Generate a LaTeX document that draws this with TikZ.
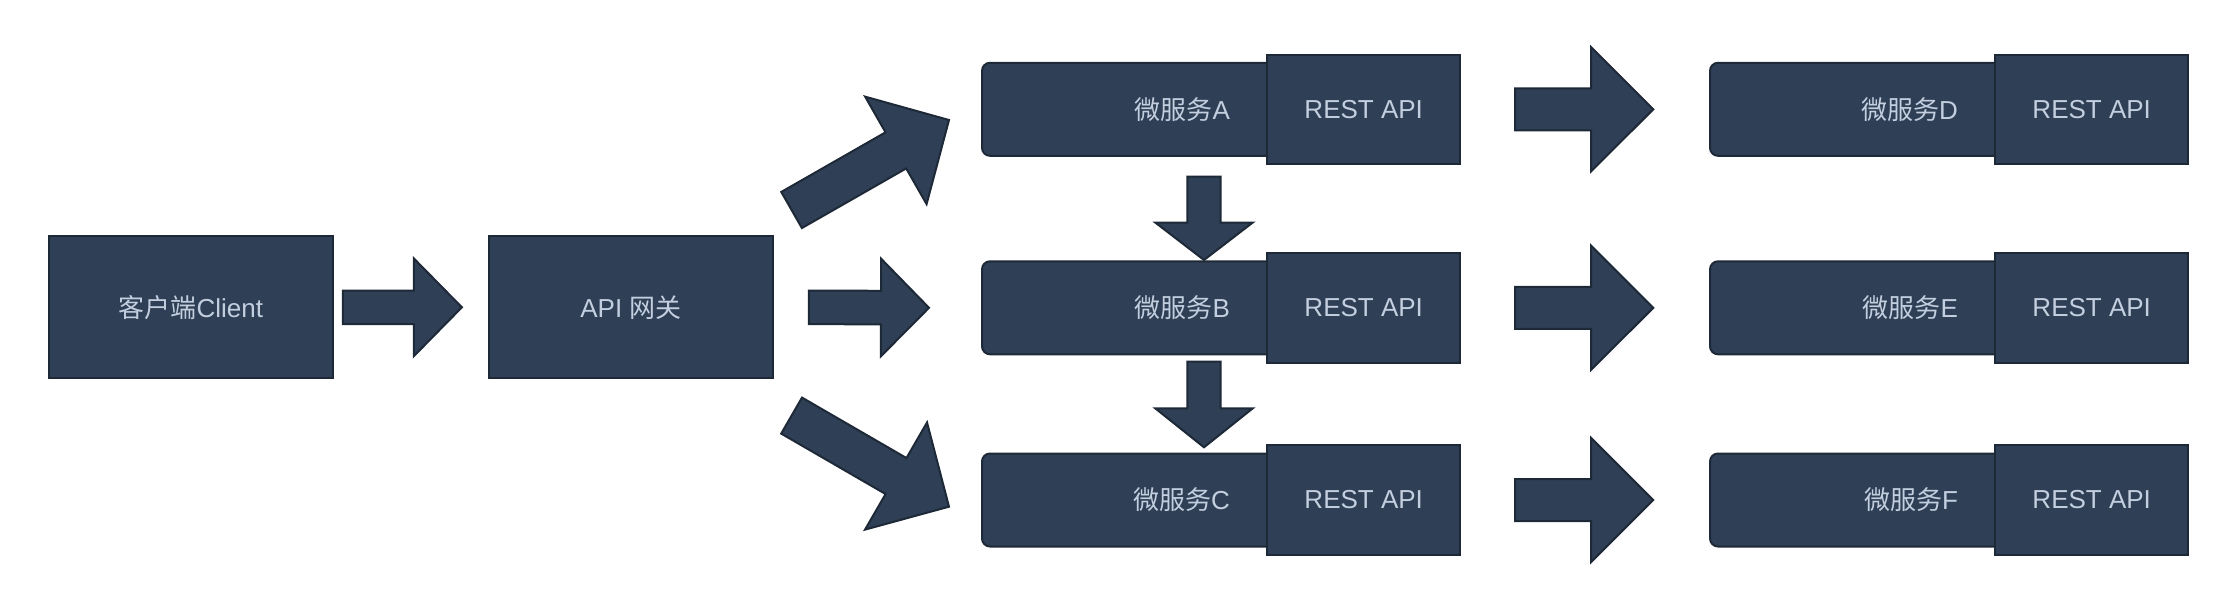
\documentclass[tikz,border=0pt]{standalone}
\usepackage{fontspec}
\setmainfont{Liberation Sans}
\newfontfamily\cjk{Noto Sans CJK SC}
\usetikzlibrary{calc}
\definecolor{boxfill}{HTML}{2F3F56}
\definecolor{boxline}{HTML}{1E2938}
\definecolor{boxtext}{HTML}{C3CEDF}
\newcommand\blockarrow[5]{%
  \path let \p1=(#1), \p2=(#2) in \pgfextra{%
    \pgfmathsetmacro\baang{atan2(\y2-\y1,\x2-\x1)}%
    \pgfmathsetmacro\balen{veclen(\x2-\x1,\y2-\y1)}%
    \pgfmathsetmacro\babase{\balen-#5}%
    \pgfmathsetmacro\bax{\x1}%
    \pgfmathsetmacro\bay{\y1}%
    \xdef\BAang{\baang}\xdef\BAlen{\balen}\xdef\BAbase{\babase}%
    \xdef\BAx{\bax}\xdef\BAy{\bay}};
  \draw[blockarrow, shift={(\BAx pt,\BAy pt)}, rotate=\BAang]
    (0pt,#3pt) -- (\BAbase pt,#3pt) -- (\BAbase pt,#4pt) -- (\BAlen pt,0pt)
    -- (\BAbase pt,-#4pt) -- (\BAbase pt,-#3pt) -- (0pt,-#3pt) -- cycle;
}
\tikzset{
  box/.style={draw=boxline, fill=boxfill, line width=2pt, text=boxtext,
    font=\fontsize{26}{30}\selectfont, outer sep=0pt, inner sep=0pt},
  svc/.style={box, rounded corners=8pt, minimum width=293pt, minimum height=93pt,
    text width=203pt, inner xsep=45pt, align=right},
  api/.style={box, minimum width=193pt, minimum height=109.5pt},
  mainbox/.style={box, minimum width=284pt, minimum height=142pt},
  blockarrow/.style={draw=boxline, fill=boxfill, line width=2pt, line join=miter},
}
\begin{document}
\begin{tikzpicture}[x=1pt, y=-1pt]
\useasboundingbox (0,0) rectangle (2238,610);
% main boxes
\node[mainbox] (client) at (190.8,307.3) {{\cjk 客户端}Client};
\node[mainbox] (gw) at (630.9,307.3) {API {\cjk 网关}};
% microservices
\node[svc] (msA) at (1128.5,109.3) {{\cjk 微服务}A};
\node[api] (restA) at (1363.7,109.3) {REST API};
\node[svc] (msB) at (1128.5,307.8) {{\cjk 微服务}B};
\node[api] (restB) at (1363.7,307.8) {REST API};
\node[svc] (msC) at (1128.5,500) {{\cjk 微服务}C};
\node[api] (restC) at (1363.7,500) {REST API};
\node[svc] (msD) at (1856.5,109.3) {{\cjk 微服务}D};
\node[api] (restD) at (2091.7,109.3) {REST API};
\node[svc] (msE) at (1856.5,307.8) {{\cjk 微服务}E};
\node[api] (restE) at (2091.7,307.8) {REST API};
\node[svc] (msF) at (1856.5,500) {{\cjk 微服务}F};
\node[api] (restF) at (2091.7,500) {REST API};
% block arrows
\blockarrow{$(client.east)+(10,0)$}{$(gw.west)+(-27,0)$}{16.8}{48.8}{48}
\blockarrow{$(gw.east)+(36,0)$}{$(msB.west)+(-53,0)$}{16.8}{48.8}{48}
\blockarrow{$(gw.north east)+(18.7,-26.3)$}{$(msA.west)+(-33,10.7)$}{20.8}{61.9}{61.2}
\blockarrow{$(gw.south east)+(18.7,37.3)$}{$(msC.west)+(-33,6.7)$}{20.8}{61.9}{61.2}
\blockarrow{$(msA.south)+(75.5,20.9)$}{$(msB.north)+(75.5,-1.3)$}{16.7}{48.8}{37.5}
\blockarrow{$(msB.south)+(75.5,7.4)$}{$(msC.north)+(75.5,-6.2)$}{16.7}{48.8}{39}
\blockarrow{$(restA.east)+(54.8,0)$}{$(msD.west)+(-56.7,0)$}{21}{62.2}{62.3}
\blockarrow{$(restB.east)+(54.8,0)$}{$(msE.west)+(-56.7,0)$}{21}{62.2}{62.3}
\blockarrow{$(restC.east)+(54.8,0)$}{$(msF.west)+(-56.7,0)$}{21}{62.2}{62.3}
\end{tikzpicture}
\end{document}
